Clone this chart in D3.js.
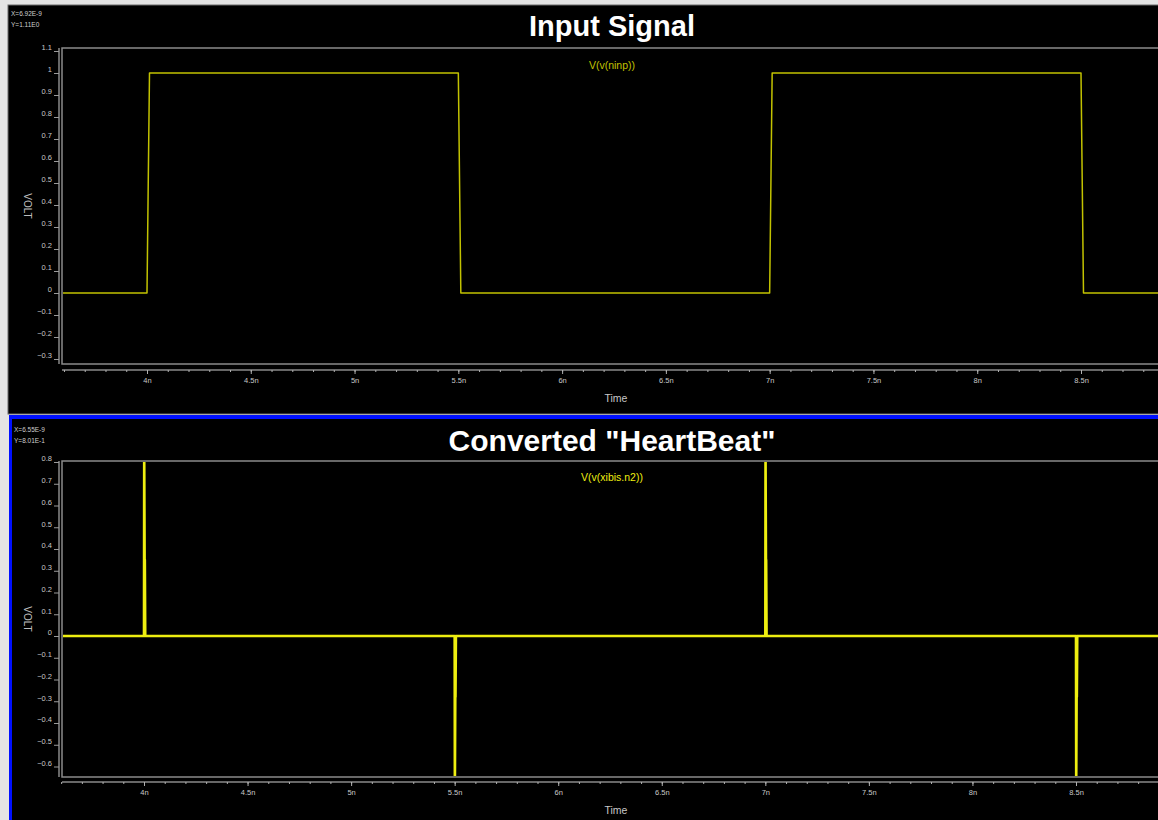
<!DOCTYPE html>
<html>
<head>
<meta charset="utf-8">
<script src="https://cdn.jsdelivr.net/npm/d3@7"></script>
<style>
  body { margin: 0; background: #e6e6e6; }
  svg { display: block; }
  text { font-family: "Liberation Sans", Arial, sans-serif; }
</style>
</head>
<body>
<figure id="graph" style="margin:0"></figure>
<script>
// ---- data (time in ns, value in volt) ----
const inputTime = [3.59, 4.0, 4.012, 5.5, 5.512, 7.0, 7.012, 8.5, 8.512, 9.0];
const inputVolt = [0,    0,   1,     1,   0,     0,   1,     1,   0,     0];

// spikes: the rising trace and the falling trace overlap up to ~0.35 V
const beatTime = [3.6, 4.0, 4.001, 4.003, 4.004, 4.006,
                  5.5, 5.501, 5.503, 5.504, 5.506,
                  7.0, 7.001, 7.003, 7.004, 7.006,
                  8.5, 8.501, 8.503, 8.504, 8.506, 9.0];
const beatVolt = [0, 0, 0.85, 0.35, 0.35, 0,
                  0, -0.7, -0.28, -0.28, 0,
                  0, 0.85, 0.35, 0.35, 0,
                  0, -0.7, -0.28, -0.28, 0, 0];

const timeTicks   = [4, 4.5, 5, 5.5, 6, 6.5, 7, 7.5, 8, 8.5];
const inputYTicks = [1.1, 1, 0.9, 0.8, 0.7, 0.6, 0.5, 0.4, 0.3, 0.2, 0.1, 0, -0.1, -0.2, -0.3];
const beatYTicks  = [0.8, 0.7, 0.6, 0.5, 0.4, 0.3, 0.2, 0.1, 0, -0.1, -0.2, -0.3, -0.4, -0.5, -0.6];

const width = 1158;
const height = 820;

const svg = d3.select('figure#graph')
  .append('svg')
  .attr('width', width)
  .attr('height', height);

// window chrome
svg.append('rect').attr('x', 0).attr('y', 0).attr('width', width).attr('height', height).attr('fill', '#e4e4e4');
svg.append('rect').attr('x', 8).attr('y', 5).attr('width', width).attr('height', 409)
  .attr('fill', '#000').attr('stroke', '#6a6a6a').attr('stroke-width', 1);
svg.append('rect').attr('x', 9).attr('y', 415).attr('width', width).attr('height', 410).attr('fill', '#0010ff');
svg.append('rect').attr('x', 12).attr('y', 419).attr('width', width).attr('height', 410).attr('fill', '#000');

const panels = [
  {
    top: 48, bottom: 364, axisY: 370,
    xRange: [147, 1081], yDomain: [-0.3, 1.1], yRange: [359, 51],
    yTicks: inputYTicks, title: 'Input Signal', titleY: 36, titleSize: 29,
    legend: 'V(v(ninp))', legendY: 69, cursor: ['X=6.92E-9', 'Y=1.11E0'], cursorX: 11, cursorY: 16,
    time: inputTime, volt: inputVolt, color: '#c2c200', lw: 1.5
  },
  {
    top: 461, bottom: 777, axisY: 782,
    xRange: [144, 1076], yDomain: [-0.6, 0.8], yRange: [766.5, 462],
    yTicks: beatYTicks, title: 'Converted "HeartBeat"', titleY: 451, titleSize: 30,
    legend: 'V(v(xibis.n2))', legendY: 481, cursor: ['X=6.55E-9', 'Y=8.01E-1'], cursorX: 14, cursorY: 432,
    time: beatTime, volt: beatVolt, color: '#eeee10', lw: 2.6
  }
];

panels.forEach((p, i) => drawPanel(p, i));

function drawPanel(p, i) {
  const g = svg.append('g');
  const xScale = d3.scaleLinear().domain([4, 8.5]).range(p.xRange);
  const yScale = d3.scaleLinear().domain(p.yDomain).range(p.yRange);
  const left = 62;

  // cursor readout
  p.cursor.forEach((t, k) => {
    g.append('text').attr('x', p.cursorX).attr('y', p.cursorY + k * 11)
      .attr('fill', '#cfcfcf').attr('font-size', 6.5).text(t);
  });

  // title
  g.append('text').attr('x', 612).attr('y', p.titleY)
    .attr('text-anchor', 'middle').attr('fill', '#fff')
    .attr('font-size', p.titleSize).attr('font-weight', 'bold').text(p.title);

  // frame
  g.append('rect').attr('x', left).attr('y', p.top)
    .attr('width', width + 20 - left).attr('height', p.bottom - p.top)
    .attr('fill', 'none').attr('stroke', '#8a8a8a').attr('stroke-width', 1.5);

  // y axis
  const yAxis = g.append('g')
    .attr('transform', `translate(59, 0)`)
    .call(d3.axisLeft(yScale).tickValues(p.yTicks).tickSize(5).tickPadding(2)
      .tickFormat(d => d3.format('~g')(d)));
  yAxis.select('.domain').attr('stroke', '#8a8a8a').attr('stroke-width', 1.5)
    .attr('d', `M0,${p.top}V${p.bottom}`);
  yAxis.selectAll('.tick line').attr('stroke', '#9a9a9a');
  yAxis.selectAll('.tick text').attr('fill', '#c8c8c8').attr('font-size', 7.5)
    .attr('dy', '-0.15em');

  g.append('text')
    .attr('transform', `translate(24, ${(p.top + p.bottom) / 2}) rotate(90)`)
    .attr('text-anchor', 'middle').attr('fill', '#bdbdbd').attr('font-size', 10)
    .text('VOLT');

  // x axis: minor ticks every 0.1n, labelled ones every 0.5n
  const minor = d3.range(36, 91).map(d => d / 10);
  const xMinor = g.append('g')
    .attr('transform', `translate(0, ${p.axisY})`)
    .call(d3.axisBottom(xScale).tickValues(minor).tickSize(2).tickFormat(''));
  xMinor.select('.domain').attr('stroke', '#8a8a8a').attr('stroke-width', 1.5)
    .attr('d', `M${left},0H${width + 10}`);
  xMinor.selectAll('.tick line').attr('stroke', '#b0b0b0');

  const xAxis = g.append('g')
    .attr('transform', `translate(0, ${p.axisY})`)
    .call(d3.axisBottom(xScale).tickValues(timeTicks).tickSize(4).tickPadding(4)
      .tickFormat(d => `${d}n`));
  xAxis.select('.domain').remove();
  xAxis.selectAll('.tick line').attr('stroke', '#b0b0b0');
  xAxis.selectAll('.tick text').attr('fill', '#c8c8c8').attr('font-size', 7.5);

  g.append('text').attr('x', 616).attr('y', p.axisY + 32)
    .attr('text-anchor', 'middle').attr('fill', '#c8c8c8').attr('font-size', 10.5)
    .text('Time');

  // trace
  const clipId = `clip${i}`;
  g.append('clipPath').attr('id', clipId)
    .append('rect').attr('x', left + 1).attr('y', p.top + 1)
    .attr('width', width).attr('height', p.bottom - p.top - 2);

  const pts = p.time.map((t, k) => [t, p.volt[k]]);
  g.append('path')
    .datum(pts)
    .attr('clip-path', `url(#${clipId})`)
    .attr('fill', 'none')
    .attr('stroke', p.color)
    .attr('stroke-width', p.lw)
    .attr('stroke-linejoin', 'round')
    .attr('d', d3.line()
      .x(d => xScale(d[0]))
      .y(d => yScale(d[1])));

  g.append('text').attr('x', 612).attr('y', p.legendY)
    .attr('text-anchor', 'middle').attr('fill', p.color).attr('font-size', 10.5)
    .text(p.legend);
}
</script>
</body>
</html>
